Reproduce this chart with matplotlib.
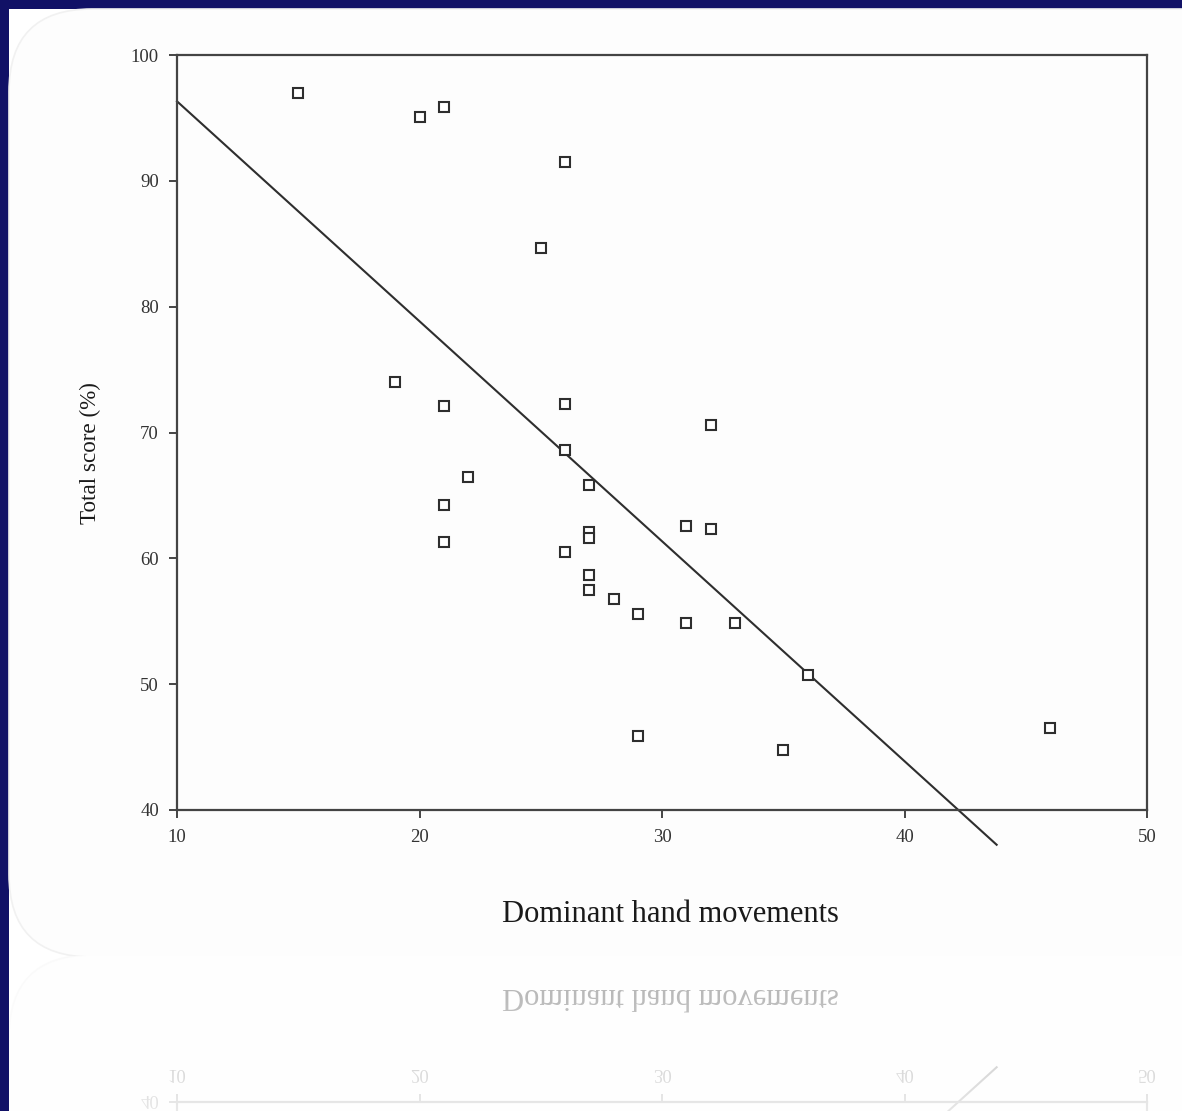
import matplotlib
matplotlib.use("Agg")
import matplotlib.pyplot as plt
from matplotlib.patches import FancyBboxPatch, Rectangle
import numpy as np

# data
hand_moves = [15, 20, 21, 26, 25, 19, 21, 26, 32, 26, 22, 27, 21, 21, 27,
              27, 31, 32, 26, 27, 27, 28, 29, 31, 33, 36, 29, 35, 46]
total_score = [97.0, 95.1, 95.9, 91.5, 84.7, 74.0, 72.1, 72.3, 70.6, 68.6, 66.5,
               65.8, 64.2, 61.3, 62.1, 61.6, 62.6, 62.3, 60.5, 58.7, 57.5, 56.8,
               55.6, 54.9, 54.9, 50.7, 45.9, 44.8, 46.5]
fit_intercept = 113.8
fit_slope = -1.748
fit_x = [10, 43.8]
xticks = [10, 20, 30, 40, 50]
yticks = [40, 50, 60, 70, 80, 90, 100]

W, H = 1182, 1111
navy = "#111166"
ink = "#2e2e2e"
serif = ["Liberation Serif", "DejaVu Serif"]

fig = plt.figure(figsize=(W / 100, H / 100), dpi=100)
fig.patch.set_facecolor(navy)

# white page + rounded panel (behind the axes)
fig.patches.append(Rectangle((9 / W, 0), 1, 1 - 9 / H, transform=fig.transFigure,
                             facecolor="white", edgecolor="none", zorder=-2))
fig.patches.append(FancyBboxPatch((9 / W, (H - 957) / H), 1.2, (957 - 9) / H,
                                  boxstyle="round,pad=0,rounding_size=0.07",
                                  transform=fig.transFigure, mutation_aspect=W / H,
                                  facecolor="#fdfdfd", edgecolor="#f1f1f1",
                                  lw=1.2, zorder=-1))

ax = fig.add_axes([177 / W, (H - 810) / H, 970 / W, 755 / H])
ax.set_facecolor("none")
ax.plot(hand_moves, total_score, linestyle="none", marker="s", ms=6.6,
        mfc="white", mec=ink, mew=1.5, zorder=3)
fx = np.array(fit_x)
ax.plot(fx, fit_intercept + fit_slope * fx, color=ink, lw=1.5, clip_on=False)

ax.set_xlim(10, 50)
ax.set_ylim(40, 100)
ax.set_xticks(xticks)
ax.set_yticks(yticks)
for s in ax.spines.values():
    s.set_color("#444444")
    s.set_linewidth(1.6)
ax.tick_params(direction="out", length=6, width=1.4, color="#444444",
               labelcolor="#333333", labelsize=13.5)
ax.tick_params(axis="x", pad=8)
ax.tick_params(axis="y", pad=7)
for lab in ax.get_xticklabels() + ax.get_yticklabels():
    lab.set_family(serif)

fig.text(670 / W, 1 - 914 / H, "Dominant hand movements", ha="center", va="center",
         fontsize=22, family=serif, color="#1a1a1a")
fig.text(90 / W, 1 - 453 / H, "Total score (%)", ha="center", va="center",
         rotation=90, fontsize=16.7, family=serif, color="#1a1a1a")

# faded mirror image below the panel
fig.canvas.draw()
buf = np.asarray(fig.canvas.buffer_rgba())[:, :, :3].astype(float)
axis_row = 956
n = H - axis_row
src = buf[axis_row - n:axis_row, 9:, :][::-1]
alpha = np.linspace(0.36, 0.12, n)[:, None, None]
refl = 255 - alpha * (255 - src)
fig.figimage(refl.clip(0, 255).astype(np.uint8), xo=9, yo=0, origin="upper", zorder=5)

fig.savefig("out.png", dpi=100, facecolor=fig.get_facecolor())
